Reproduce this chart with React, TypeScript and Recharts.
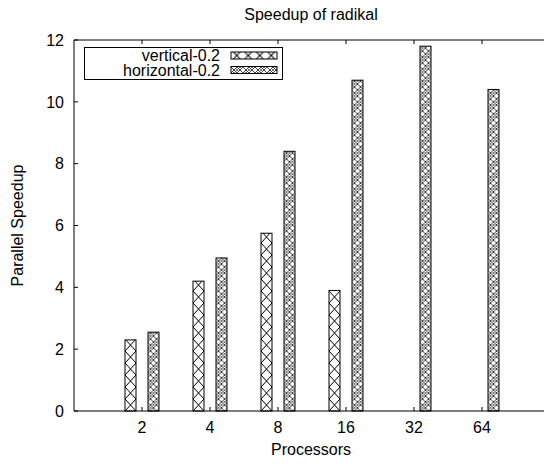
import { BarChart, Bar, XAxis, YAxis, Legend, Label } from 'recharts';

// values
const processors = ['2', '4', '8', '16', '32', '64'];
const vertical02 = [2.3, 4.2, 5.75, 3.9, null, null];
const horizontal02 = [2.55, 4.95, 8.4, 10.7, 11.8, 10.4];
const speedupTicks = [0, 2, 4, 6, 8, 10, 12];
const seriesOrder = ['vertical', 'horizontal'];

const chartData = processors.map((p, i) => ({
  procs: p,
  vertical: vertical02[i],
  horizontal: horizontal02[i],
}));

const FONT = '"Liberation Sans", Arial, Helvetica, sans-serif';
const FS = 16;

// big X crosshatch
function crossPattern(id: string, x: number, y: number, w: number) {
  return (
    <pattern id={id} patternUnits="userSpaceOnUse" x={x} y={y} width={w} height={12}>
      <rect width={w} height={12} fill="#fff" />
      <path d={`M0 0L${w} 12M${w} 0L0 12`} stroke="#000" strokeWidth={1} fill="none" />
    </pattern>
  );
}

// small diamonds with x marks in every other cell
const xMarks = [[0, 0], [12, 0], [0, 12], [12, 12], [6, 6], [9, 3], [3, 9]]
  .map(([cx, cy]) => `M${cx - 0.9} ${cy - 0.9}L${cx + 0.9} ${cy + 0.9}M${cx + 0.9} ${cy - 0.9}L${cx - 0.9} ${cy + 0.9}`)
  .join('');

function diamondPattern(id: string, x: number, y: number) {
  return (
    <pattern id={id} patternUnits="userSpaceOnUse" x={x} y={y} width={12} height={12}>
      <rect width={12} height={12} fill="#fff" />
      <path
        d="M0 3L3 0M0 9L9 0M3 12L12 3M9 12L12 9M0 9L3 12M0 3L9 12M3 0L12 9M9 0L12 3"
        stroke="#000"
        strokeWidth={0.75}
        fill="none"
      />
      <path d={xMarks} stroke="#000" strokeWidth={0.6} fill="none" />
    </pattern>
  );
}

function PatternBar(props: any) {
  const { x, y, width, height, index, kind } = props;
  if (height == null || height <= 0 || x == null) return null;
  const id = `${kind}-bar-${index}`;
  const pat =
    kind === 'cross'
      ? crossPattern(id, x, y + height, width)
      : diamondPattern(id, x + width / 2 - 6, y + height);
  return (
    <g>
      <defs>{pat}</defs>
      <rect x={x} y={y} width={width} height={height} fill={`url(#${id})`} stroke="#000" strokeWidth={1} />
    </g>
  );
}

function LegendBox(props: any) {
  const items = [...(props.payload ?? [])].sort(
    (a: any, b: any) => seriesOrder.indexOf(a.dataKey) - seriesOrder.indexOf(b.dataKey)
  );
  return (
    <svg width={200} height={34} style={{ display: 'block' }}>
      <defs>
        {crossPattern('leg-cross', 147, 2.5, 11.5)}
        {diamondPattern('leg-diamond', 147, 17)}
      </defs>
      <rect x={0.5} y={0.5} width={198} height={32} fill="#fff" stroke="#000" strokeWidth={1} />
      {items.map((it: any, i: number) => (
        <g key={it.value}>
          <text x={136} y={14 + i * 15} textAnchor="end" fontFamily={FONT} fontSize={FS} fill="#000">
            {it.value}
          </text>
          <rect
            x={147}
            y={5 + i * 14.5}
            width={46}
            height={7}
            fill={it.dataKey === 'vertical' ? 'url(#leg-cross)' : 'url(#leg-diamond)'}
            stroke="#000"
            strokeWidth={1}
          />
        </g>
      ))}
    </svg>
  );
}

const tickStyle = { fill: '#000', fontSize: FS, fontFamily: FONT };
const lineStyle = { stroke: '#000', strokeWidth: 1 };

export default function App() {
  return (
    <div style={{ position: 'absolute', left: 0, top: 0, width: 544, height: 464, background: '#fff' }}>
      <BarChart
        width={544}
        height={464}
        data={chartData}
        margin={{ top: 0, right: 0, bottom: 0, left: 0 }}
        barSize={11}
        barGap={12}
      >
        <XAxis
          dataKey="procs"
          height={53}
          padding={{ left: 34, right: 28 }}
          axisLine={lineStyle}
          tickLine={lineStyle}
          tickSize={-4}
          tickMargin={15}
          tick={tickStyle}
          interval={0}
        >
          <Label
            content={(p: any) => (
              <text
                x={p.viewBox.x + p.viewBox.width / 2 + 2}
                y={p.viewBox.y + 44}
                textAnchor="middle"
                fontFamily={FONT}
                fontSize={FS}
                fill="#000"
              >
                Processors
              </text>
            )}
          />
        </XAxis>
        <XAxis
          xAxisId="top"
          orientation="top"
          dataKey="procs"
          height={40}
          padding={{ left: 34, right: 28 }}
          axisLine={lineStyle}
          tickLine={lineStyle}
          tickSize={-4}
          tickFormatter={() => ''}
          interval={0}
        >
          <Label
            content={(p: any) => (
              <text
                x={p.viewBox.x + p.viewBox.width / 2 + 2}
                y={p.viewBox.y + 20}
                textAnchor="middle"
                fontFamily={FONT}
                fontSize={FS}
                fill="#000"
              >
                Speedup of radikal
              </text>
            )}
          />
        </XAxis>
        <YAxis
          width={74}
          domain={[0, 12]}
          ticks={speedupTicks}
          axisLine={lineStyle}
          tickLine={lineStyle}
          tickSize={-4}
          tickMargin={14}
          tick={tickStyle}
          interval={0}
        >
          <Label
            content={(p: any) => {
              const cx = p.viewBox.x + 23;
              const cy = p.viewBox.y + p.viewBox.height / 2;
              return (
                <text
                  x={cx}
                  y={cy}
                  transform={`rotate(-90 ${cx} ${cy})`}
                  textAnchor="middle"
                  fontFamily={FONT}
                  fontSize={FS}
                  fill="#000"
                >
                  Parallel Speedup
                </text>
              );
            }}
          />
        </YAxis>
        <YAxis
          yAxisId="right"
          orientation="right"
          width={0}
          domain={[0, 12]}
          ticks={speedupTicks}
          axisLine={lineStyle}
          tickLine={lineStyle}
          tickSize={-4}
          tickFormatter={() => ''}
          interval={0}
        />
        <Legend
          layout="horizontal"
          verticalAlign="middle"
          align="center"
          content={<LegendBox />}
          wrapperStyle={{ left: 84, top: 47, width: 200, height: 34 }}
        />
        <Bar
          dataKey="vertical"
          name="vertical-0.2"
          isAnimationActive={false}
          shape={(p: any) => <PatternBar {...p} kind="cross" />}
        />
        <Bar
          dataKey="horizontal"
          name="horizontal-0.2"
          isAnimationActive={false}
          shape={(p: any) => <PatternBar {...p} kind="diamond" />}
        />
      </BarChart>
    </div>
  );
}
